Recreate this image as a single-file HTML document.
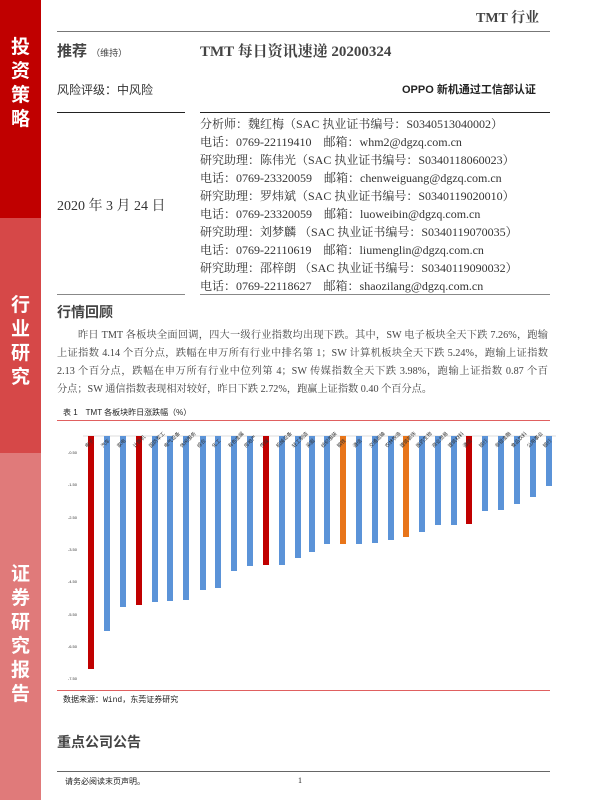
<!DOCTYPE html>
<html><head><meta charset="utf-8"><style>
*{margin:0;padding:0}
body{width:600px;height:800px;position:relative;background:#fff;font-family:"Liberation Serif","Noto Serif CJK SC",serif;color:#333;overflow:hidden}
.a{position:absolute;white-space:nowrap}
.sb{position:absolute;left:0;width:41px;color:#fff;font-family:"Liberation Sans","Noto Sans CJK SC",sans-serif;font-weight:bold;font-size:19px;line-height:24px;text-align:center}
.ln{position:absolute;height:1px;background:#555}
.an{font-size:12px;left:200px}
.p{position:absolute;font-size:10.2px;left:57px;width:491px;color:#444;white-space:nowrap;overflow:hidden;text-align:justify;text-align-last:justify;font-family:"Liberation Serif","Noto Serif CJK SC",serif}
</style></head><body>
<div class="sb" style="top:0;height:218px;background:#c00000;"><div style="padding-top:36px">投<br>资<br>策<br>略</div></div>
<div class="sb" style="top:218px;height:235px;background:#d64848;"><div style="padding-top:76px">行<br>业<br>研<br>究</div></div>
<div class="sb" style="top:453px;height:347px;background:#e07a7a;"><div style="padding-top:110px">证<br>券<br>研<br>究<br>报<br>告</div></div>

<div class="a" style="left:476px;top:7px;font-size:14px;font-weight:bold;color:#444">TMT 行业</div>
<div class="ln" style="left:57px;top:31px;width:493px;background:#777"></div>
<div class="a" style="left:57px;top:40px;font-size:15px;font-weight:bold;font-family:'Liberation Sans','Noto Sans CJK SC',sans-serif;color:#444">推荐 <span style="font-size:9px;font-weight:normal">（维持）</span></div>
<div class="a" style="left:200px;top:40px;font-size:15px;font-weight:bold;color:#444">TMT 每日资讯速递 20200324</div>
<div class="a" style="left:57px;top:81px;font-size:12px;font-family:'Liberation Sans','Noto Sans CJK SC',sans-serif">风险评级：中风险</div>
<div class="a" style="left:402px;top:81px;font-size:11px;font-weight:bold;font-family:'Liberation Sans','Noto Sans CJK SC',sans-serif;color:#222">OPPO 新机通过工信部认证</div>
<div class="ln" style="left:57px;top:112px;width:128px;background:#222"></div>
<div class="ln" style="left:200px;top:112px;width:350px;background:#222"></div>
<div class="a" style="left:57px;top:195px;font-size:14px">2020 年 3 月 24 日</div>
<div class="a an" style="top:115px">分析师：魏红梅（SAC 执业证书编号：S0340513040002）</div>
<div class="a an" style="top:133px">电话：0769-22119410　邮箱：whm2@dgzq.com.cn</div>
<div class="a an" style="top:151px">研究助理：陈伟光（SAC 执业证书编号：S0340118060023）</div>
<div class="a an" style="top:169px">电话：0769-23320059　邮箱：chenweiguang@dgzq.com.cn</div>
<div class="a an" style="top:187px">研究助理：罗炜斌（SAC 执业证书编号：S0340119020010）</div>
<div class="a an" style="top:205px">电话：0769-23320059　邮箱：luoweibin@dgzq.com.cn</div>
<div class="a an" style="top:223px">研究助理：刘梦麟 （SAC 执业证书编号：S0340119070035）</div>
<div class="a an" style="top:241px">电话：0769-22110619　邮箱：liumenglin@dgzq.com.cn</div>
<div class="a an" style="top:259px">研究助理：邵梓朗 （SAC 执业证书编号：S0340119090032）</div>
<div class="a an" style="top:277px">电话：0769-22118627　邮箱：shaozilang@dgzq.com.cn</div>
<div class="ln" style="left:57px;top:294px;width:128px;background:#888"></div>
<div class="ln" style="left:200px;top:294px;width:350px;background:#888"></div>

<div class="a" style="left:57px;top:302px;font-size:14px;font-weight:bold;font-family:'Liberation Sans','Noto Sans CJK SC',sans-serif;color:#444">行情回顾</div>
<div class="p" style="top:326px;left:78px;width:470px">昨日 TMT 各板块全面回调，四大一级行业指数均出现下跌。其中，SW 电子板块全天下跌 7.26%，跑输</div>
<div class="p" style="top:344px">上证指数 4.14 个百分点，跌幅在申万所有行业中排名第 1；SW 计算机板块全天下跌 5.24%，跑输上证指数</div>
<div class="p" style="top:362px">2.13 个百分点，跌幅在申万所有行业中位列第 4；SW 传媒指数全天下跌 3.98%，跑输上证指数 0.87 个百</div>
<div class="p" style="top:380px;width:400px;text-align:left;text-align-last:left">分点；SW 通信指数表现相对较好，昨日下跌 2.72%，跑赢上证指数 0.40 个百分点。</div>

<div class="a" style="left:63px;top:407px;font-size:8px;font-family:'Liberation Sans','Noto Sans CJK SC',sans-serif;color:#222">表 1　TMT 各板块昨日涨跌幅（%）</div>
<div class="ln" style="left:57px;top:420px;width:493px;background:#e06060"></div>

<svg class="a" style="left:0;top:0" width="600" height="800">
<line x1="83" y1="436" x2="556" y2="436" stroke="#ddd" stroke-width="1"/>
<g font-size="4" fill="#333" font-family="Liberation Sans" text-anchor="end">
<text x="77" y="454">-0.50</text><text x="77" y="486">-1.50</text><text x="77" y="519">-2.50</text><text x="77" y="551">-3.50</text><text x="77" y="583">-4.50</text><text x="77" y="616">-5.50</text><text x="77" y="648">-6.50</text><text x="77" y="680">-7.50</text>
</g>
<g id="bars"></g>
</svg>
<script>
var d=[[91,669,'r'],[107,631,'b'],[123,607,'b'],[139,605,'r'],[155,602,'b'],[170,601,'b'],[186,600,'b'],[203,590,'b'],[218,588,'b'],[234,571,'b'],[250,566,'b'],[266,565,'r'],[282,565,'b'],[298,558,'b'],[312,552,'b'],[327,544,'b'],[343,544,'o'],[359,544,'b'],[375,543,'b'],[391,540,'b'],[406,537,'o'],[422,532,'b'],[438,525,'b'],[454,525,'b'],[469,524,'r'],[485,511,'b'],[501,510,'b'],[517,504,'b'],[533,497,'b'],[549,486,'b']];
var n=['电子','汽车','家电','计算机','国防军工','电气设备','休闲服务','综合','化工','有色金属','房地产','传媒','机械设备','轻工制造','采掘','纺织服装','钢铁','通信','交通运输','农林牧渔','建筑装饰','医药生物','商业贸易','建筑材料','通信','银行','非银金融','食品饮料','公用事业','银行'];
var c={r:'#c00000',b:'#5b93d8',o:'#e8751a'};var s='';
d.forEach(function(e,i){s+='<rect x="'+(e[0]-3)+'" y="436" width="6" height="'+(e[1]-436)+'" fill="'+c[e[2]]+'"/>';
s+='<text x="'+(e[0]-4)+'" y="448" font-size="5" fill="#333" transform="rotate(-45 '+(e[0]-4)+' 448)" font-family="Noto Sans CJK SC">'+n[i]+'</text>';});
document.getElementById('bars').innerHTML=s;
</script>
<div class="ln" style="left:57px;top:690px;width:493px;background:#e06060"></div>
<div class="a" style="left:63px;top:694px;font-size:8px;font-family:'Liberation Mono','Noto Sans CJK SC',monospace;color:#222">数据来源：Wind，东莞证券研究</div>
<div class="a" style="left:57px;top:732px;font-size:14px;font-weight:bold;font-family:'Liberation Sans','Noto Sans CJK SC',sans-serif;color:#444">重点公司公告</div>
<div class="ln" style="left:57px;top:771px;width:493px;background:#666"></div>
<div class="a" style="left:65px;top:776px;font-size:8px;font-family:'Noto Sans CJK SC',sans-serif;color:#222">请务必阅读末页声明。</div>
<div class="a" style="left:298px;top:776px;font-size:8px;color:#222">1</div>
</body></html>
